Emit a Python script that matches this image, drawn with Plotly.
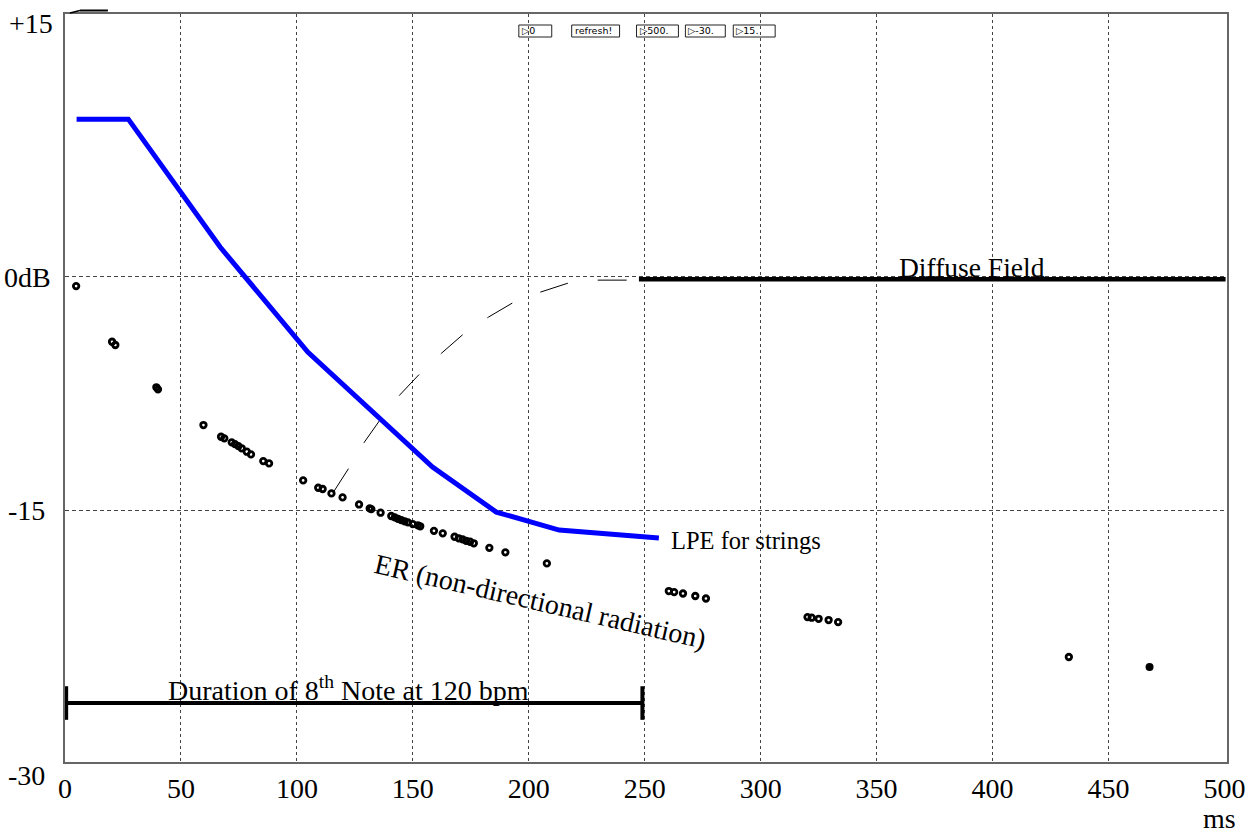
import plotly.graph_objects as go

# ---------------- data (ms, dB) ----------------
lpe_ms = [5.0, 27.3, 66.9, 104.7, 158.5, 186.0, 213.1, 256.1]
lpe_db = [10.06, 10.06, 1.86, -4.87, -12.24, -15.13, -16.28, -16.79]

diffuse_ms = [247.5, 500.5]
diffuse_db = [-0.2, -0.2]

transition_ms = [115.5, 122.4, 128.8, 136.1, 144.3, 152.9, 162.4, 171.8,
                 182.6, 192.9, 205.0, 217.0, 229.5, 242.4]
transition_db = [-13.91, -12.31, -10.71, -9.17, -7.63, -6.28, -4.94, -3.72,
                 -2.63, -1.73, -1.03, -0.45, -0.26, -0.26]

er_ms = [4.8, 20.3, 21.7, 39.4, 40.1, 59.7, 67.3, 68.7, 71.9, 73.3, 74.8, 76.2,
         78.4, 80.2, 85.5, 88.0, 102.7, 109.2, 111.1, 114.9, 119.7, 126.8, 131.4,
         132.1, 136.1, 140.7, 142.2, 143.6, 145.0, 146.5, 147.9, 150.0, 152.2,
         153.2, 159.1, 162.9, 168.0, 169.8, 171.5, 173.0, 174.7, 176.3, 183.0,
         189.9, 207.8, 260.4, 262.7, 266.5, 271.8, 276.4, 320.2, 322.0, 325.0,
         329.3, 333.4, 432.9]
er_db = [-0.64, -4.21, -4.42, -7.13, -7.26, -9.55, -10.30, -10.40, -10.66, -10.77,
         -10.90, -11.04, -11.26, -11.43, -11.86, -12.01, -13.10, -13.57, -13.65,
         -13.93, -14.19, -14.64, -14.89, -14.94, -15.17, -15.38, -15.47, -15.56,
         -15.64, -15.72, -15.79, -15.90, -15.98, -16.04, -16.33, -16.49, -16.71,
         -16.81, -16.88, -16.97, -17.03, -17.13, -17.42, -17.71, -18.42, -20.19,
         -20.26, -20.35, -20.51, -20.67, -21.86, -21.90, -21.97, -22.05, -22.18,
         -24.42]
er_last_ms = [467.7]
er_last_db = [-25.06]

note_ms = [0.5, 249.0]
note_db = [-27.37, -27.37]

x_ticks = [0, 50, 100, 150, 200, 250, 300, 350, 400, 450, 500]
x_grid = [50, 100, 150, 200, 250, 300, 350, 400, 450]
y_grid = [-15, 0]
y_labels = ["+15", "0dB", "-15", "-30"]
button_labels = ["▷0", "refresh!", "▷500.", "▷-30.", "▷15."]

# ---------------- layout helpers ----------------
W, H = 1257, 835
PL, PR, PT, PB = 65, 1230, 14, 762
X_RANGE = [0, 501.1]
Y_RANGE = [-31.15, 16.8]
SERIF = "Liberation Serif, Times New Roman, serif"


def fx(p):
    return (p - PL) / (PR - PL)


def fy(p):
    return (PB - p) / (PB - PT)


fig = go.Figure()

# ER dots
fig.add_trace(go.Scatter(
    x=er_ms, y=er_db, mode="markers",
    marker=dict(symbol="circle-open", size=5.5, color="black", line=dict(width=2.8, color="black")),
    showlegend=False, hoverinfo="skip"))
fig.add_trace(go.Scatter(
    x=er_last_ms, y=er_last_db, mode="markers",
    marker=dict(symbol="circle", size=8, color="black"),
    showlegend=False, hoverinfo="skip"))

# transition (dashed thin)
fig.add_trace(go.Scatter(
    x=transition_ms, y=transition_db, mode="lines",
    line=dict(color="black", width=1, dash="29px,30px"),
    showlegend=False, hoverinfo="skip"))

# diffuse field
fig.add_trace(go.Scatter(
    x=diffuse_ms, y=diffuse_db, mode="lines",
    line=dict(color="black", width=4.5),
    showlegend=False, hoverinfo="skip", cliponaxis=False))

# LPE for strings
fig.add_trace(go.Scatter(
    x=lpe_ms, y=lpe_db, mode="lines",
    line=dict(color="#0000FF", width=5),
    showlegend=False, hoverinfo="skip"))

# duration bar
fig.add_trace(go.Scatter(
    x=note_ms, y=note_db, mode="lines+markers",
    line=dict(color="black", width=4),
    marker=dict(symbol="line-ns", size=24, color="black", line=dict(width=4, color="black")),
    showlegend=False, hoverinfo="skip", cliponaxis=False))

annotations = []

# y labels
ylab_pos = [(55, 23), (53, 277), (47, 510), (47, 775)]
for t, (x, y) in zip(y_labels, ylab_pos):
    annotations.append(dict(text=t, x=fx(x), y=fy(y), xref="paper", yref="paper",
                            xanchor="right", yanchor="middle", showarrow=False,
                            font=dict(family=SERIF, size=28, color="black")))

annotations.append(dict(text="ms", x=fx(1222), y=fy(818), xref="paper", yref="paper",
                        xanchor="center", yanchor="middle", showarrow=False,
                        font=dict(family=SERIF, size=28, color="black")))

annotations.append(dict(text="Diffuse Field", x=fx(974), y=fy(267), xref="paper", yref="paper",
                        xanchor="center", yanchor="middle", showarrow=False,
                        font=dict(family=SERIF, size=27.5, color="black")))
annotations.append(dict(text="LPE for strings", x=fx(671), y=fy(540), xref="paper", yref="paper",
                        xanchor="left", yanchor="middle", showarrow=False,
                        font=dict(family=SERIF, size=24.5, color="black")))
annotations.append(dict(text="ER (non-directional radiation)", x=fx(542), y=fy(601),
                        xref="paper", yref="paper", xanchor="center", yanchor="middle",
                        textangle=13, showarrow=False,
                        font=dict(family=SERIF, size=28, color="black")))
annotations.append(dict(text="Duration of 8<sup>th</sup> Note at 120 bpm", x=fx(349), y=fy(688),
                        xref="paper", yref="paper", xanchor="center", yanchor="middle",
                        showarrow=False, font=dict(family=SERIF, size=28, color="black")))

shapes = []
# buttons
button_px = [(520, 553), (573, 621), (638, 680), (687, 727), (735, 777)]
for lab, (x0, x1) in zip(button_labels, button_px):
    shapes.append(dict(type="rect", xref="paper", yref="paper",
                       x0=fx(x0), x1=fx(x1), y0=fy(37), y1=fy(25),
                       line=dict(color="#222", width=1), fillcolor="rgba(0,0,0,0)"))
    annotations.append(dict(text=lab, x=fx(x0 + 1), y=fy(31), xref="paper", yref="paper",
                            xanchor="left", yanchor="middle", showarrow=False,
                            font=dict(family="DejaVu Sans, sans-serif", size=9.5, color="black")))

# small stroke above top-left corner
shapes.append(dict(type="line", xref="paper", yref="paper",
                   x0=fx(70), y0=fy(13), x1=fx(80), y1=fy(10.5),
                   line=dict(color="black", width=1.5)))
shapes.append(dict(type="line", xref="paper", yref="paper",
                   x0=fx(80), y0=fy(10.5), x1=fx(108), y1=fy(10.5),
                   line=dict(color="black", width=2)))

fig.update_layout(
    width=W, height=H,
    margin=dict(l=PL, r=W - PR, t=PT, b=H - PB),
    paper_bgcolor="white", plot_bgcolor="white",
    annotations=annotations, shapes=shapes,
    showlegend=False,
    xaxis=dict(range=X_RANGE, tickmode="array", tickvals=x_ticks,
               ticktext=[str(v) for v in x_ticks],
               showgrid=False, zeroline=False, ticks="",
               showline=True, mirror=True, linecolor="#666", linewidth=2,
               tickfont=dict(family=SERIF, size=28, color="black"),
               minor=dict(tickmode="array", tickvals=x_grid, showgrid=True,
                          gridcolor="#444", gridwidth=1, griddash="3px,3px", ticks=""),
               fixedrange=True),
    yaxis=dict(range=Y_RANGE, tickmode="array", tickvals=y_grid,
               showticklabels=False, ticks="",
               showgrid=True, gridcolor="#444", gridwidth=1, griddash="4px,3px",
               zeroline=False,
               showline=True, mirror=True, linecolor="#666", linewidth=2,
               fixedrange=True),
)

fig.write_html("out.html")
